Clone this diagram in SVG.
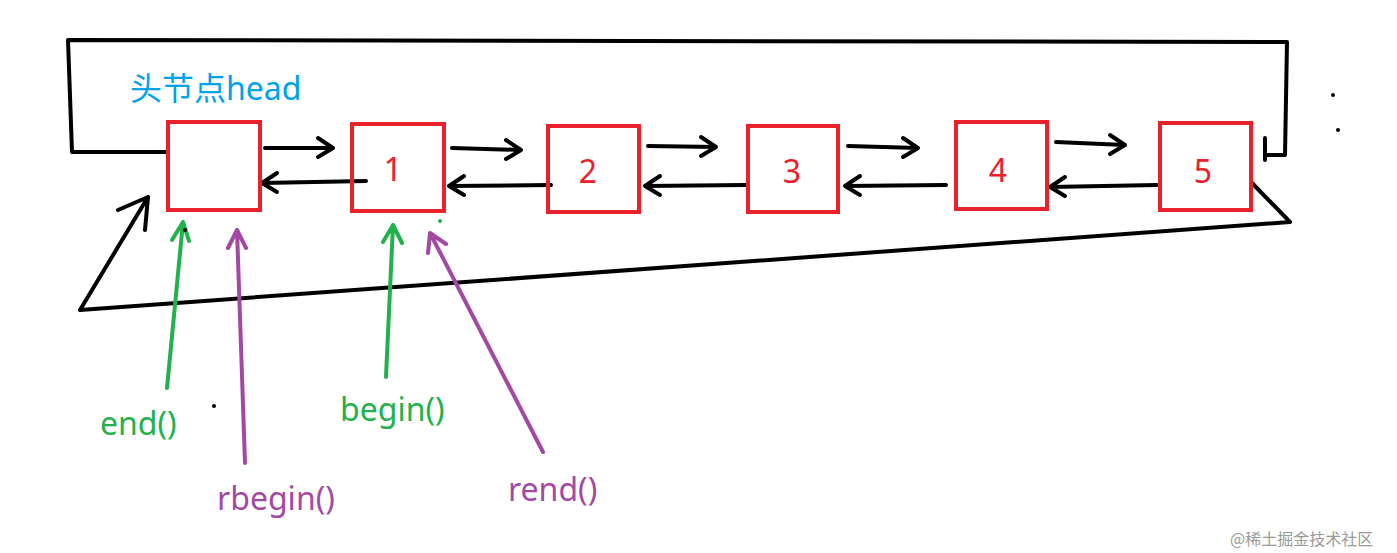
<svg xmlns="http://www.w3.org/2000/svg" width="1397" height="553" viewBox="0 0 1397 553">
<style>
.k{fill:none;stroke:#000;stroke-width:4;stroke-linecap:round;stroke-linejoin:round}
.b{fill:none;stroke:#e8212b;stroke-width:4}
.n{font-family:"Noto Sans",sans-serif;font-size:32px;fill:#e8212b;text-anchor:middle}
.g{fill:none;stroke:#22b14c;stroke-width:4;stroke-linecap:round;stroke-linejoin:round}
.p{fill:none;stroke:#a349a4;stroke-width:4;stroke-linecap:round;stroke-linejoin:round}
.t{font-family:"Noto Sans","Noto Sans CJK SC",sans-serif;font-size:32px}
</style>
<rect width="1397" height="553" fill="#fff"/>
<g id="connectors">
<path class="k" d="M168 152 L72 152 L68 40 L1287 42 L1285 155 L1265 155 M1265 138 L1265 160"/>
<path class="k" d="M1252 183 L1290 222 L80 310 L148 197 M118 210 L148 197 L145 230"/>
<path class="k" d="M265 148 L333 148 M318 138 L333 148 L318 157"/>
<path class="k" d="M452 148 L521 150 M506 140 L521 150 L506 159"/>
<path class="k" d="M648 146 L716 147 M701 137 L716 147 L701 156"/>
<path class="k" d="M848 146 L918 148 M903 138 L918 148 L903 157"/>
<path class="k" d="M1056 142 L1125 145 M1110 135 L1125 145 L1110 154"/>
<path class="k" d="M366 181 L262 183 M277 173 L262 183 L277 192"/>
<path class="k" d="M551 185 L449 186 M464 176 L449 186 L464 195"/>
<path class="k" d="M746 185 L645 186 M660 176 L645 186 L660 195"/>
<path class="k" d="M946 185 L845 186 M860 176 L845 186 L860 195"/>
<path class="k" d="M1157 185 L1050 187 M1065 177 L1050 187 L1065 196"/>
<path class="g" d="M167 388 L183 222 M172 240 L183 222 L189 241"/>
<path class="g" d="M386 377 L393 225 M383 242 L393 225 L402 243"/>
<path class="p" d="M245 463 L237 230 M228 248 L237 230 L246 248"/>
<path class="p" d="M543 452 L430 233 M428 253 L430 233 L446 244"/>
</g>
<g id="head"><rect class="b" x="168" y="122" width="92" height="88"/></g>
<g id="n1"><rect class="b" x="352" y="124" width="92" height="87"/><text class="n" x="393" y="181">1</text></g>
<g id="n2"><rect class="b" x="548" y="126" width="91" height="86"/><text class="n" x="588" y="183">2</text></g>
<g id="n3"><rect class="b" x="748" y="126" width="90" height="86"/><text class="n" x="792" y="183">3</text></g>
<g id="n4"><rect class="b" x="956" y="122" width="91" height="87"/><text class="n" x="998" y="182">4</text></g>
<g id="n5"><rect class="b" x="1160" y="123" width="91" height="87"/><text class="n" x="1203" y="183">5</text></g>
<g fill="#000"><circle cx="1333" cy="95" r="2"/><circle cx="1338" cy="130" r="2"/><circle cx="214" cy="406" r="2"/><circle cx="185" cy="230" r="2"/></g>
<circle cx="440" cy="221" r="2" fill="#22b14c"/>
<text class="t" x="130" y="100" fill="#00a2e8">头节点head</text>
<text class="t" x="100" y="435" fill="#22b14c">end()</text>
<text class="t" x="340" y="421" fill="#22b14c">begin()</text>
<text class="t" x="217" y="510" fill="#a349a4">rbegin()</text>
<text class="t" x="508" y="501" fill="#a349a4">rend()</text>
<text x="1230" y="545" font-family="Noto Sans CJK SC,sans-serif" font-size="16" fill="#9a9a9a">@稀土掘金技术社区</text>
</svg>
